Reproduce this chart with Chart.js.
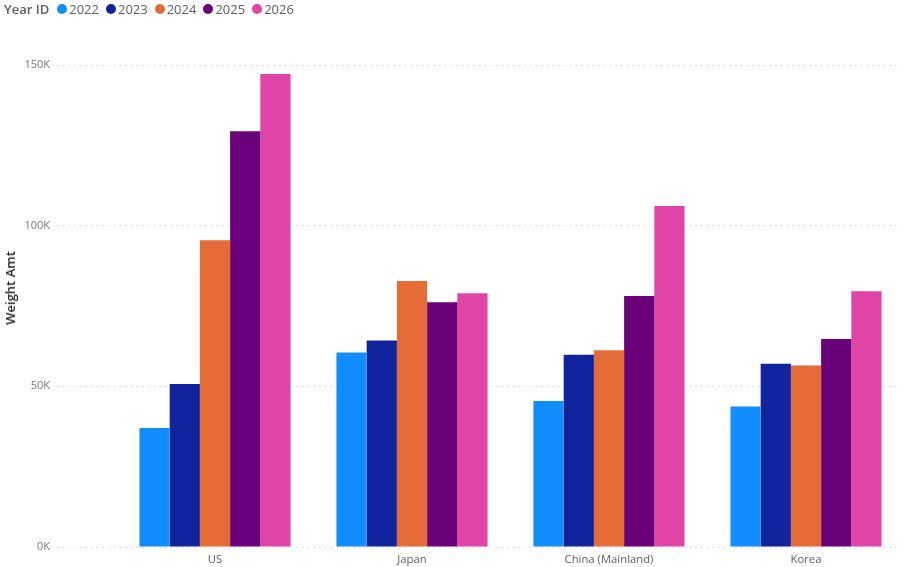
<!DOCTYPE html>
<html>
<head>
<meta charset="utf-8">
<script src="https://cdn.jsdelivr.net/npm/chart.js@4.4.1/dist/chart.umd.min.js"></script>
<style>
  html, body { margin: 0; padding: 0; background: #fff; overflow: hidden; }
  #wrap { position: relative; width: 903px; height: 567px; }
  #legend { position: absolute; left: 4px; top: 0; height: 18px; display: flex; align-items: center; font-family: 'Open Sans', sans-serif; font-size: 13px; color: #605e5c; white-space: nowrap; }
  #legend .title { font-weight: 600; margin-right: 8px; }
  #legend .item { display: flex; align-items: center; margin-right: 7px; }
  #legend .dot { width: 10px; height: 10px; border-radius: 50%; margin-right: 2px; }
  #ytitle { position: absolute; left: 10px; top: 288px; transform: translate(-50%, -50%) rotate(-90deg); font-family: 'Open Sans', sans-serif; font-size: 13px; font-weight: 600; color: #252423; white-space: nowrap; }
</style>
</head>
<body>
<div id="wrap">
  <canvas id="chart" width="903" height="567"></canvas>
  <div id="legend"></div>
  <div id="ytitle">Weight Amt</div>
</div>
<script>
/* Weight Amt by country and year */
const categories = ['US', 'Japan', 'China (Mainland)', 'Korea'];
const years = ['2022', '2023', '2024', '2025', '2026'];
const colors = ['#118DFF', '#12239E', '#E66C37', '#6B007B', '#E044A7'];

const v2022 = [37000, 60500, 45400, 43700];
const v2023 = [50700, 64300, 59800, 57000];
const v2024 = [95500, 82800, 61200, 56500];
const v2025 = [129400, 76200, 78100, 64700];
const v2026 = [147200, 79000, 106100, 79600];
const series = [v2022, v2023, v2024, v2025, v2026];

const yTicks = [0, 50000, 100000, 150000];

function renderLegend() {
  const el = document.getElementById('legend');
  el.innerHTML = '<span class="title">Year ID</span>' + years.map((y, i) =>
    `<span class="item"><span class="dot" style="background:${colors[i]}"></span>${y}</span>`
  ).join('');
}

function renderChart() {
  const font = "'Open Sans', sans-serif";
  new Chart(document.getElementById('chart'), {
    type: 'bar',
    data: {
      datasets: years.map((y, i) => ({
        label: y,
        data: series[i].map((v, j) => ({ x: j, y: v })),
        backgroundColor: colors[i],
        borderWidth: 0,
        categoryPercentage: 0.767,
        barPercentage: 1
      }))
    },
    options: {
      responsive: false,
      animation: false,
      layout: { padding: { top: 65, right: 6, bottom: 0, left: 0 } },
      plugins: { legend: { display: false }, tooltip: { enabled: false } },
      scales: {
        x: {
          type: 'linear',
          offset: false,
          bounds: 'data',
          min: -0.802,
          max: 3.462,
          grid: { display: false, drawTicks: false },
          border: { display: false },
          afterBuildTicks(scale) { scale.ticks = categories.map((c, i) => ({ value: i })); },
          afterFit(scale) { scale.height = 20; },
          ticks: {
            autoSkip: false,
            maxRotation: 0,
            padding: 6,
            color: '#605e5c',
            font: { family: font, size: 11.3 },
            callback(v) { return categories[v]; }
          }
        },
        y: {
          min: 0,
          max: 150000,
          afterBuildTicks(scale) { scale.ticks = yTicks.map(v => ({ value: v })); },
          afterFit(scale) { scale.width = 57; },
          grid: { color: '#cfcfcf', drawTicks: false, lineWidth: 1 },
          border: { display: false, dash: [1.5, 4.2] },
          ticks: {
            padding: 7,
            color: '#777',
            font: { family: font, size: 11 },
            callback(v) { return (v / 1000) + 'K'; }
          }
        }
      }
    }
  });
}

document.addEventListener('DOMContentLoaded', () => {
  renderLegend();
  renderChart();
});
</script>
</body>
</html>
